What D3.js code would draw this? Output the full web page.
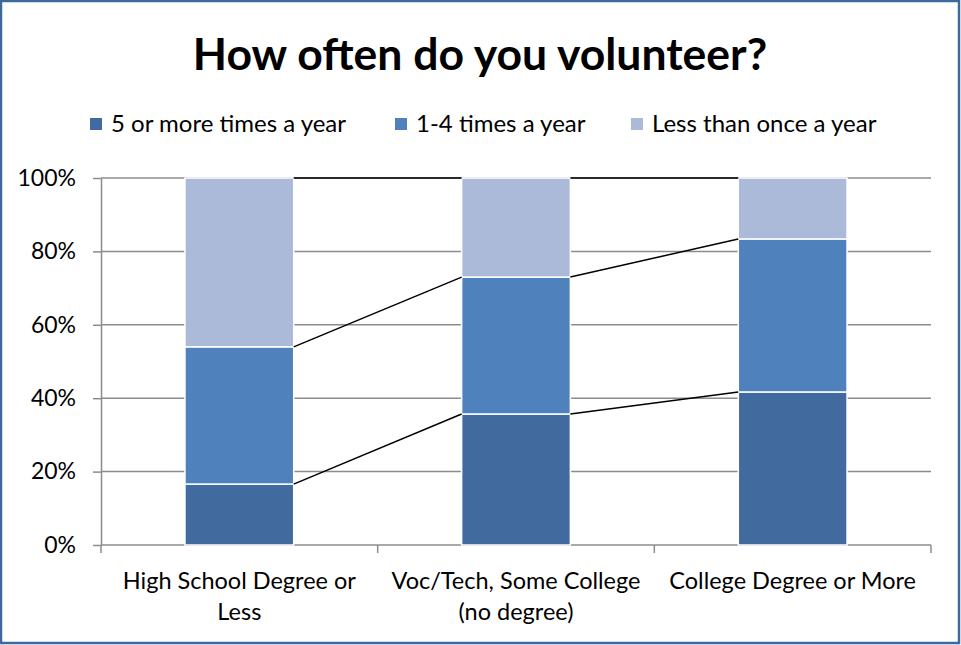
<!DOCTYPE html>
<html><head><meta charset="utf-8">
<script src="https://cdn.jsdelivr.net/npm/d3@7"></script>
<style>html,body{margin:0;padding:0;background:#fff;}svg{display:block;}</style>
</head><body>
<svg id="c" width="961" height="645"></svg>
<script>
const categories = [["High School Degree or","Less"],["Voc/Tech, Some College","(no degree)"],["College Degree or More"]];
const seriesNames = ["5 or more times a year","1-4 times a year","Less than once a year"];
const fiveOrMore = [16.6, 35.7, 41.7];
const oneToFour = [37.4, 37.3, 41.7];
const lessThanOnce = [46.0, 27.0, 16.6];
const yTicks = [0,20,40,60,80,100];
const colors = ["#416a9e","#4f81bd","#aabad8"];

const font = "Lato, 'Open Sans', sans-serif";
const svg = d3.select("#c");
svg.append("rect").attr("x",1).attr("y",1).attr("width",958).attr("height",642)
  .attr("fill","#fff").attr("stroke","#3d6a9a").attr("stroke-width",2.5);

const ml=101, mr=931, mt=178, mb=545;
const keys = categories.map((c,i)=>i);
const x = d3.scaleBand().domain(keys).range([ml,mr]).paddingInner(0.607).paddingOuter(0.3035);
const y = d3.scaleLinear().domain([0,100]).range([mb,mt]);

svg.append("text").attr("x",480).attr("y",70).attr("text-anchor","middle")
  .attr("font-family",font).attr("font-weight","bold").attr("font-size",44.5).attr("fill","#000")
  .text("How often do you volunteer?");

// grid
svg.append("g").selectAll("line").data(yTicks.filter(d=>d>0)).join("line")
  .attr("x1",ml).attr("x2",mr).attr("y1",d=>y(d)).attr("y2",d=>y(d))
  .attr("stroke","#8c8c8c").attr("stroke-width",1.5);

// y axis
const ya = svg.append("g").attr("transform",`translate(${ml},0)`)
  .call(d3.axisLeft(y).tickValues(yTicks).tickFormat(d=>d+"%").tickSize(8).tickSizeOuter(0));
ya.select(".domain").attr("stroke","#8c8c8c").attr("stroke-width",1.5);
ya.selectAll(".tick line").attr("stroke","#8c8c8c").attr("stroke-width",1.5);
ya.selectAll("text").attr("font-family",font).attr("font-size",23).attr("fill","#000").attr("x",-25);

// x axis
const xa = svg.append("g").attr("transform",`translate(0,${mb})`);
xa.append("line").attr("x1",ml).attr("x2",mr).attr("stroke","#8c8c8c").attr("stroke-width",1.5);
const bounds = [ml, ...keys.map(k=>x(k)+x.bandwidth()+x.step()*x.paddingInner()/2).slice(0,-1), mr];
xa.selectAll("line.t").data(bounds).join("line").attr("class","t")
  .attr("x1",d=>d).attr("x2",d=>d).attr("y1",0).attr("y2",8).attr("stroke","#8c8c8c").attr("stroke-width",1.5);

// stacks
const rows = keys.map(i=>({i, a:fiveOrMore[i], b:oneToFour[i], c:lessThanOnce[i]}));
const stack = d3.stack().keys(["a","b","c"])(rows);
const g = svg.append("g");
stack.forEach((s,si)=>{
  g.selectAll(null).data(s).join("rect")
    .attr("x",d=>x(d.data.i)).attr("width",x.bandwidth())
    .attr("y",d=>y(d[1])).attr("height",d=>y(d[0])-y(d[1]))
    .attr("fill",colors[si]).attr("stroke","#fff").attr("stroke-width",1.5);
});

// series lines
stack.forEach(s=>{
  for(let i=0;i<s.length-1;i++){
    svg.append("line").attr("x1",x(i)+x.bandwidth()).attr("y1",y(s[i][1]))
      .attr("x2",x(i+1)).attr("y2",y(s[i+1][1])).attr("stroke","#000").attr("stroke-width",1.5);
  }
});

// x labels
keys.forEach(i=>{
  const t = svg.append("text").attr("text-anchor","middle").attr("font-family",font)
    .attr("font-size",23.5).attr("fill","#000");
  categories[i].forEach((ln,j)=>{
    t.append("tspan").attr("x",x(i)+x.bandwidth()/2).attr("y",589+j*31).text(ln);
  });
});

// legend
const legX = [90, 395, 631];
seriesNames.forEach((n,i)=>{
  svg.append("rect").attr("x",legX[i]).attr("y",118).attr("width",12).attr("height",12).attr("fill",colors[i]);
  svg.append("text").attr("x",legX[i]+21).attr("y",132).attr("font-family",font).attr("font-size",24)
    .attr("fill","#000").text(n);
});
</script>
</body></html>
